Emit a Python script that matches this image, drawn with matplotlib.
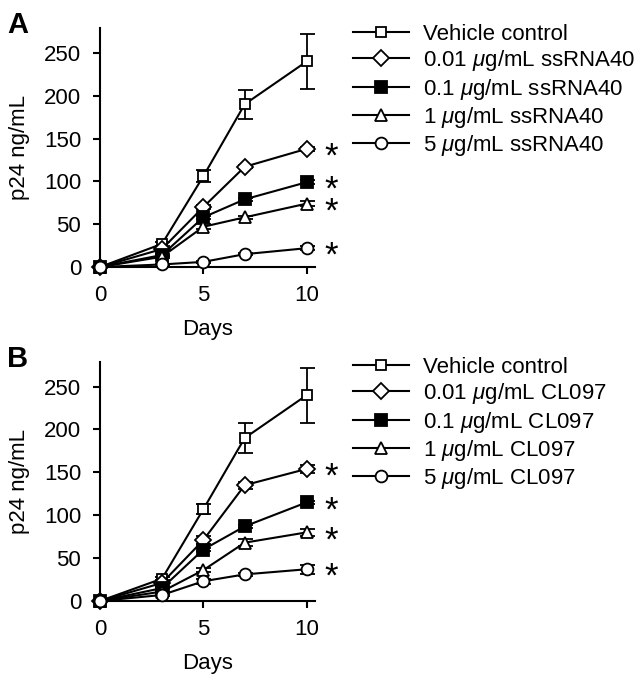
import numpy as np
import matplotlib
matplotlib.use('Agg')
import matplotlib.pyplot as plt

plt.rcParams['font.family'] = ['Liberation Sans', 'DejaVu Sans']
plt.rcParams['mathtext.fontset'] = 'custom'
plt.rcParams['mathtext.rm'] = 'Liberation Sans'
plt.rcParams['mathtext.it'] = 'Liberation Sans:italic'
plt.rcParams['mathtext.bf'] = 'Liberation Sans:bold'

# -----------------------------------------------------------------------------
# Data
# -----------------------------------------------------------------------------
days = [0, 3, 5, 7, 10]

# panel A : ssRNA40
a_vehicle = [0, 27, 106, 190, 240]
a_vehicle_err = [0, 2, 7, 17, 32]
a_001 = [0, 21, 70, 117, 138]
a_001_err = [0, 1, 2, 2, 2]
a_01 = [0, 14, 58, 79, 99]
a_01_err = [0, 1, 2, 2, 2]
a_1 = [0, 12, 47, 58, 74]
a_1_err = [0, 1, 3, 2, 3]
a_5 = [0, 3, 6, 15, 22]
a_5_err = [0, 1, 1, 1, 2]

# panel B : CL097
b_vehicle = [0, 26, 107, 190, 240]
b_vehicle_err = [0, 2, 6, 17, 32]
b_001 = [0, 21, 71, 135, 154]
b_001_err = [0, 2, 5, 4, 5]
b_01 = [0, 15, 60, 87, 115]
b_01_err = [0, 1, 2, 2, 2]
b_1 = [0, 11, 36, 68, 80]
b_1_err = [0, 1, 2, 4, 4]
b_5 = [0, 7, 23, 31, 37]
b_5_err = [0, 1, 3, 2, 5]

a_labels = ['Vehicle control', r'0.01 $\mu$g/mL ssRNA40', r'0.1 $\mu$g/mL ssRNA40',
            r'1 $\mu$g/mL ssRNA40', r'5 $\mu$g/mL ssRNA40']
b_labels = ['Vehicle control', r'0.01 $\mu$g/mL CL097', r'0.1 $\mu$g/mL CL097',
            r'1 $\mu$g/mL CL097', r'5 $\mu$g/mL CL097']

markers = ['s', 'D', 's', '^', 'o']
faces = ['white', 'white', 'black', 'white', 'white']
msizes = [6.5, 8.0, 8.0, 8.0, 8.5]

FS = 16

# -----------------------------------------------------------------------------
# Plot
# -----------------------------------------------------------------------------
fig = plt.figure(figsize=(6.43, 6.81), dpi=100)


def panel(rect, series, errs, labels, letter, leg_y):
    ax = fig.add_axes(rect)
    handles = []
    for i in range(len(series)):
        h = ax.errorbar(days, series[i], yerr=errs[i], color='black', lw=1.5,
                        marker=markers[i], ms=msizes[i], mfc=faces[i], mec='black',
                        mew=1.3, capsize=5.4, elinewidth=1.3, capthick=1.3,
                        clip_on=False, zorder=3 + i, label=labels[i])
        handles.append(h)
        for b in h[1] + h[2]:
            b.set_clip_on(False)
        # significance marks
        if i > 0:
            ax.annotate(r'$*$', xy=(10, series[i][-1]), xytext=(17.5, -5.3),
                        textcoords='offset points', fontsize=25, ha='center',
                        va='center', annotation_clip=False)

    ax.set_xlim(0, 10.4)
    ax.set_ylim(0, 279)
    ax.set_xticks([0, 5, 10])
    ax.set_yticks([0, 50, 100, 150, 200, 250])
    ax.tick_params(axis='both', direction='out', length=5, width=1.5, labelsize=FS)
    ax.tick_params(axis='x', pad=8)
    ax.tick_params(axis='y', pad=8.5)
    for s in ['top', 'right']:
        ax.spines[s].set_visible(False)
    for s in ['left', 'bottom']:
        ax.spines[s].set_linewidth(1.5)
    ax.set_xlabel('Days', fontsize=FS, labelpad=9)
    ax.set_ylabel('p24 ng/mL', fontsize=FS, labelpad=10)

    fig.legend([hh[0] for hh in handles], labels, loc='upper left',
               bbox_to_anchor=(0.535, leg_y), frameon=False, fontsize=FS,
               handlelength=2.52, handletextpad=0.63, labelspacing=0.15,
               borderaxespad=0)
    fig.text(0.011, rect[1] + rect[3] + 0.025, letter, fontsize=21,
             fontweight='bold', va='top')
    return ax


panel([0.1555, 0.6079, 0.3344, 0.351],
      [a_vehicle, a_001, a_01, a_1, a_5],
      [a_vehicle_err, a_001_err, a_01_err, a_1_err, a_5_err],
      a_labels, 'A', 0.978)
panel([0.1555, 0.1175, 0.3344, 0.3514],
      [b_vehicle, b_001, b_01, b_1, b_5],
      [b_vehicle_err, b_001_err, b_01_err, b_1_err, b_5_err],
      b_labels, 'B', 0.489)

plt.savefig('out.png', dpi=100)
